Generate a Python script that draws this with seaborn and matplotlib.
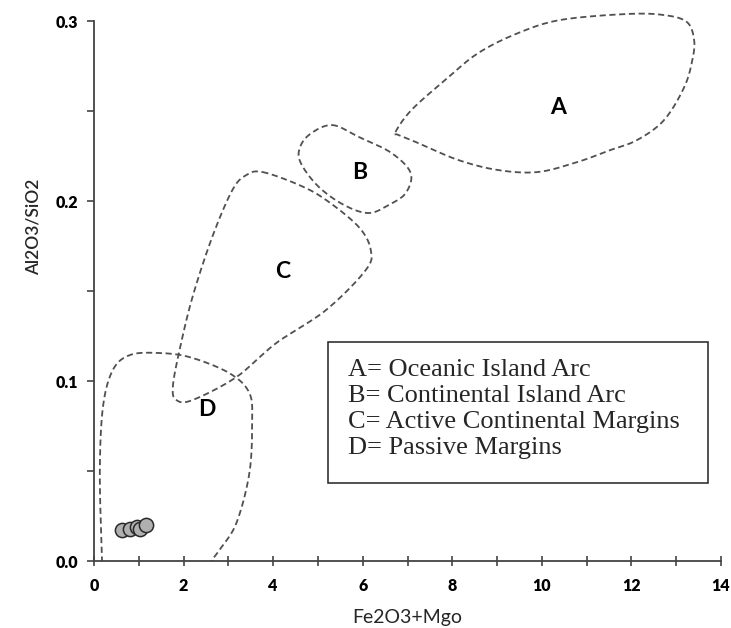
import numpy as np
import pandas as pd
import matplotlib
matplotlib.use("Agg")
import matplotlib.pyplot as plt
import seaborn as sns

# ---- data ----
sample_x = [0.62, 0.80, 0.95, 1.02, 1.17]
sample_y = [0.017, 0.018, 0.019, 0.018, 0.020]

field_A_x = [6.73, 7.09, 7.84, 8.58, 9.47, 10.42, 11.91, 12.73, 13.24, 13.40, 13.36, 13.18, 12.73, 12.13, 11.53, 10.80, 9.91, 9.02, 8.13, 7.24, 6.80]
field_A_y = [0.2383, 0.2506, 0.2672, 0.2822, 0.2933, 0.3006, 0.3039, 0.3033, 0.2994, 0.2894, 0.2783, 0.2633, 0.2450, 0.2339, 0.2283, 0.2217, 0.2161, 0.2172, 0.2228, 0.2322, 0.2367]

field_B_x = [5.31, 5.91, 6.64, 7.07, 6.96, 6.58, 6.13, 5.58, 5.02, 4.64, 4.58, 4.80]
field_B_y = [0.2422, 0.2356, 0.2267, 0.2156, 0.2044, 0.1978, 0.1933, 0.1978, 0.2078, 0.2200, 0.2283, 0.2367]

field_C_x = [3.76, 4.58, 5.18, 5.91, 6.18, 6.07, 5.18, 4.07, 3.18, 2.20, 1.84, 1.76, 1.91, 2.20, 2.64, 3.09, 3.40]
field_C_y = [0.2161, 0.2089, 0.2006, 0.1856, 0.1728, 0.1617, 0.1394, 0.1211, 0.1022, 0.0894, 0.0894, 0.0967, 0.1172, 0.1467, 0.1800, 0.2061, 0.2144]

field_D_x = [0.19, 0.18, 0.13, 0.20, 0.42, 0.80, 1.40, 2.13, 3.02, 3.47, 3.53, 3.47, 3.18, 2.80, 2.62, 2.55]
field_D_y = [-0.005, 0.0, 0.0489, 0.0856, 0.1061, 0.1144, 0.1156, 0.1133, 0.1044, 0.0933, 0.0767, 0.0489, 0.0211, 0.0061, 0.0, -0.005]

field_labels = ["A", "B", "C", "D"]
label_x = [10.36, 5.93, 4.22, 2.53]
label_y = [0.2522, 0.2156, 0.1606, 0.0839]

legend_lines = ["A= Oceanic Island Arc", "B= Continental Island Arc",
                "C= Active Continental Margins", "D= Passive Margins"]

x_ticks = [0, 2, 4, 6, 8, 10, 12, 14]
y_ticks = [0.0, 0.1, 0.2, 0.3]


def catmull_rom(xs, ys, closed=True, n=20):
    P = np.column_stack([xs, ys]).astype(float)
    if closed:
        P = np.vstack([P[-1], P, P[0], P[1]])
    else:
        P = np.vstack([P[0], P, P[-1]])
    out = []
    for i in range(1, len(P) - 2):
        p0, p1, p2, p3 = P[i - 1], P[i], P[i + 1], P[i + 2]
        t = np.linspace(0, 1, n, endpoint=False)[:, None]
        pts = 0.5 * ((2 * p1) + (-p0 + p2) * t + (2 * p0 - 5 * p1 + 4 * p2 - p3) * t ** 2
                     + (-p0 + 3 * p1 - 3 * p2 + p3) * t ** 3)
        out.append(pts)
    out.append(P[-2][None, :])
    out = np.vstack(out)
    return out[:, 0], out[:, 1]


sns.set_style("ticks")
plt.rcParams['font.family'] = ['Lato', 'DejaVu Sans']

W, H = 731, 628
fig = plt.figure(figsize=(W / 100, H / 100), dpi=100)
ax_l, ax_r, ax_t, ax_b = 94, 721, 21, 561
ax = fig.add_axes([ax_l / W, 1 - ax_b / H, (ax_r - ax_l) / W, (ax_b - ax_t) / H])

ls = (0, (3.4, 2.0))
lc = "#505050"
for fx, fy, closed, clip in [(field_A_x, field_A_y, True, False),
                             (field_B_x, field_B_y, True, True),
                             (field_C_x, field_C_y, True, True),
                             (field_D_x, field_D_y, False, True)]:
    sx, sy = catmull_rom(fx, fy, closed=closed)
    ax.plot(sx, sy, linestyle=ls, color=lc, lw=1.3, clip_on=clip)

df = pd.DataFrame({"x": sample_x, "y": sample_y})
sns.scatterplot(data=df, x="x", y="y", ax=ax, s=105, color="#b0b0b0",
                edgecolor="#2a2a2a", linewidth=1.1, zorder=5)

for lab, lx, ly in zip(field_labels, label_x, label_y):
    ax.text(lx, ly, lab, fontsize=16.5, fontweight='bold', ha='center', va='center', color='black')

ax.set_xlim(0, 14)
ax.set_ylim(0, 0.3)
ax.set_xticks(x_ticks)
ax.set_xticklabels([str(v) for v in x_ticks])
ax.set_yticks(y_ticks)
ax.set_yticklabels([f"{v:.1f}" for v in y_ticks])
ax.set_xticks(np.arange(1, 14, 2), minor=True)
ax.set_yticks([0.05, 0.15, 0.25], minor=True)
ax.tick_params(axis='both', which='major', labelsize=11.5, colors='#444444', labelcolor='black', width=1.2)
ax.tick_params(axis='x', which='both', direction='inout', length=7, width=1.2, color='#444444', pad=9)
ax.tick_params(axis='y', which='both', direction='out', length=5, width=1.2, color='#444444', pad=6.5)
for lab in ax.get_xticklabels() + ax.get_yticklabels():
    lab.set_fontweight('heavy')

ax.set_xlabel("Fe2O3+Mgo", fontsize=14)
ax.xaxis.set_label_coords(0.5, -0.088)
ax.set_ylabel("Al2O3/SiO2", fontsize=12.5, fontweight='semibold')
ax.yaxis.set_label_coords(-0.083, 0.619)
for s in ["top", "right"]:
    ax.spines[s].set_visible(False)
for s in ["left", "bottom"]:
    ax.spines[s].set_color("#444444")
    ax.spines[s].set_linewidth(1.3)

# legend box
bx0, bx1, by0, by1 = 328, 708, 342, 483
box = plt.Rectangle((bx0 / W, 1 - by1 / H), (bx1 - bx0) / W, (by1 - by0) / H,
                    transform=fig.transFigure, fill=False, edgecolor='#222222', lw=1.1)
fig.add_artist(box)
ty = [370, 396, 422, 448]
for t, yy in zip(legend_lines, ty):
    fig.text(348 / W, 1 - yy / H, t, fontsize=19, family='Liberation Serif', va='center', ha='left')

fig.savefig("out.png", dpi=100)
